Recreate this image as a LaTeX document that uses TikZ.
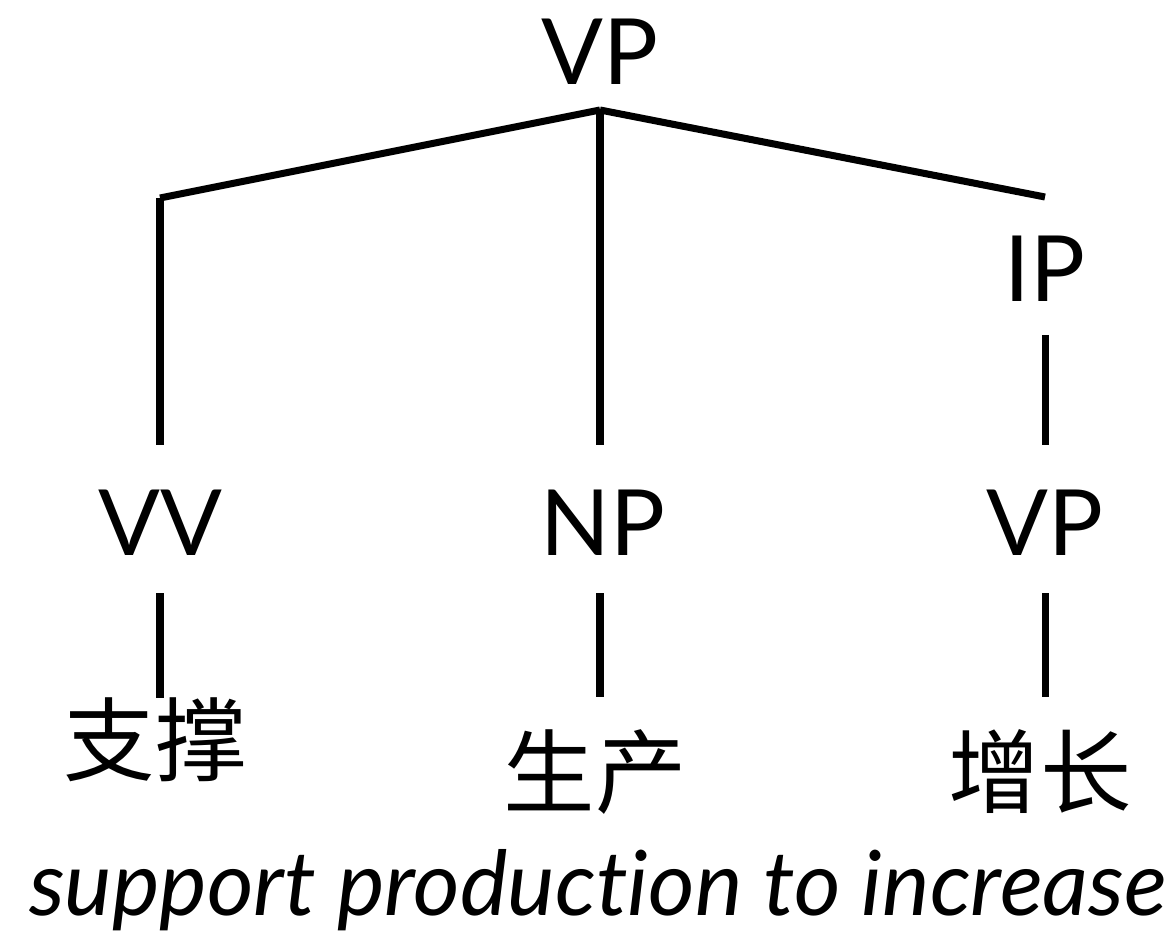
\documentclass[tikz,border=0pt]{standalone}
\usepackage{fontspec}
\setmainfont{Lato}[Ligatures=NoCommon]
\newfontfamily\cjk{Noto Sans CJK SC}
\begin{document}
\begin{tikzpicture}[x=0.01cm,y=-0.01cm,
  cat/.style={anchor=base,inner sep=0pt,font=\fontsize{26}{30}\selectfont},
  word/.style={inner sep=0pt,font=\cjk\fontsize{26}{30}\selectfont},
  gloss/.style={anchor=base,inner sep=0pt,font=\itshape\fontsize{25.5}{28}\selectfont},
  edge/.style={line width=2pt}]
  \useasboundingbox (0,0) rectangle (1170,952);
  % categories
  \node[cat] (VP) at (600,85) {VP};
  \node[cat] (IP) at (1045,302) {IP};
  \node[cat] (VV) at (160,555) {VV};
  \node[cat] (NP) at (603,555) {NP};
  \node[cat] (VPlow) at (1045,555) {VP};
  % words
  \node[word] (zhicheng) at (155,740) {支撑};
  \node[word] (shengchan) at (595,772) {生产};
  \node[word] (zengzhang) at (1040,772) {增长};
  \node[gloss] (gloss) at (598,915) {support production to increase};
  % branch ends
  \coordinate (top) at (600,110);
  \coordinate (Lc) at (160,198);
  \coordinate (Rc) at (1045,197);
  \coordinate (Lb) at (160,445);
  \coordinate (Mb) at (600,445);
  \coordinate (Ia) at (1045,335);
  \coordinate (Ib) at (1045,445);
  \coordinate (Va) at (160,593);
  \coordinate (Vb) at (160,698);
  \coordinate (Na) at (600,593);
  \coordinate (Nb) at (600,697);
  \coordinate (Pa) at (1045,593);
  \coordinate (Pb) at (1045,697);
  \draw[edge] (top) -- (Lc);
  \draw[edge] (Lc) -- (Lb);
  \draw[edge] (top) -- (Mb);
  \draw[edge] (top) -- (Rc);
  \draw[edge] (Ia) -- (Ib);
  \draw[edge] (Va) -- (Vb);
  \draw[edge] (Na) -- (Nb);
  \draw[edge] (Pa) -- (Pb);
\end{tikzpicture}
\end{document}
